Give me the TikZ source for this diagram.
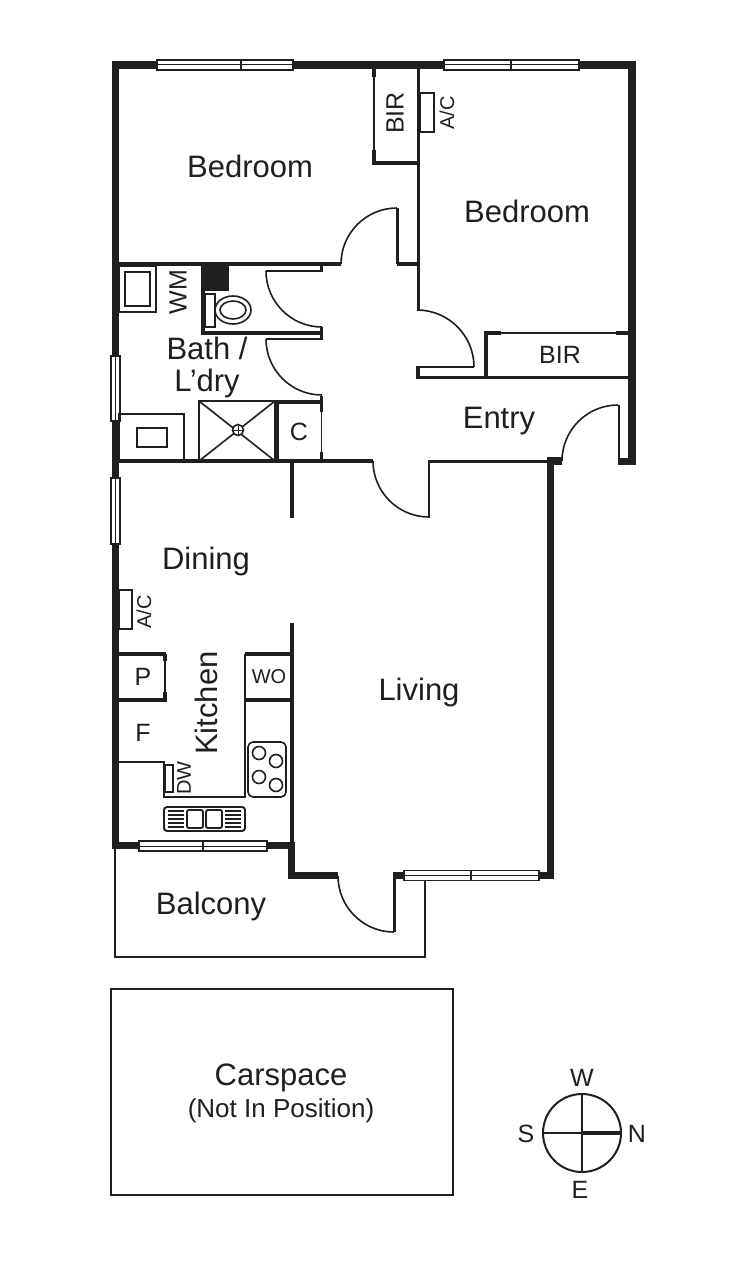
\documentclass[tikz,border=0pt]{standalone}
\usepackage{fontspec}
\setmainfont{Liberation Sans}

\begin{document}
\begin{tikzpicture}[x=1pt, y=-1pt,
        wallline/.style={line width=7.5pt, line cap=butt, color=black!88},
        partline/.style={line width=3.5pt, color=black!88},
        thinline/.style={line width=1.6pt, color=black!88},
        doorline/.style={line width=1.6pt, color=black!88},
        jambline/.style={line width=2.6pt, color=black!88},
        windowpane/.style={draw=black!88, fill=white, line width=1.3pt},
        roomlabel/.style={font=\fontsize{31}{32}\selectfont, text=black!88, inner sep=0pt, align=center},
        boxlabel/.style={font=\fontsize{25}{27}\selectfont, text=black!88, inner sep=0pt},
        smalllabel/.style={font=\fontsize{20}{22}\selectfont, text=black!88, inner sep=0pt}]

        \useasboundingbox (0, 0) rectangle (750, 1263);

        % outer walls
        \draw[wallline] (115.5, 61) -- (115.5, 849);
        \draw[wallline] (112, 65) -- (636, 65);
        \draw[wallline] (632, 61) -- (632, 465);
        \draw[wallline] (618, 461.5) -- (636, 461.5);
        \draw[wallline] (550.5, 458) -- (550.5, 879);
        \draw[wallline] (547, 461) -- (562, 461);
        \draw[wallline] (112, 845.5) -- (295, 845.5);
        \draw[wallline] (291.5, 842) -- (291.5, 879);
        \draw[wallline] (288, 875.5) -- (338, 875.5);
        \draw[wallline] (394, 875.5) -- (554, 875.5);

        % balcony and carspace
        \draw[line width=2.4pt, color=black!88] (115, 849) -- (115, 957) -- (425, 957) -- (425, 879);
        \draw[thinline] (111, 989) rectangle (453, 1195);

        % windows
        \foreach \xa/\xm/\xb/\yc in {157/241/293/65, 444/511/579/65, 139/203/267/846, 404/471/539/875.5}
        {
                \draw[windowpane] (\xa, \yc-5) rectangle (\xb, \yc+5);
                \draw[thinline, line width=1pt] (\xa, \yc) -- (\xb, \yc);
                \draw[thinline] (\xm, \yc-5) -- (\xm, \yc+5);
        }
        \foreach \ya/\yb in {356/421, 478/544}
        {
                \draw[windowpane] (111, \ya) rectangle (120, \yb);
                \draw[thinline, line width=1pt] (115.5, \ya) -- (115.5, \yb);
        }

        % inner walls
        \draw[partline] (418.5, 69) -- (418.5, 310);
        \draw[partline] (372, 163) -- (418.5, 163);
        \draw[partline] (119, 264) -- (341, 264);
        \draw[partline] (397, 264) -- (418.5, 264);
        \draw[partline] (416, 377.5) -- (628, 377.5);
        \draw[partline] (418, 366) -- (418, 379);
        \draw[partline] (486, 332) -- (486, 377);
        \draw[partline] (484, 333) -- (501, 333);
        \draw[partline] (616, 333) -- (628, 333);
        \draw[thinline] (501, 333) -- (616, 333);
        \draw[partline] (119, 461) -- (373, 461);
        \draw[partline] (428, 461.5) -- (547, 461.5);
        \draw[partline] (292, 461) -- (292, 518);
        \draw[partline] (292, 623) -- (292, 843);
        \draw[partline] (277, 401) -- (277, 461);
        \draw[partline] (275, 402) -- (322, 402);

        % upper robe door
        \draw[thinline] (374, 69) -- (374, 164);
        \draw[partline] (374, 69) -- (374, 77);
        \draw[partline] (374, 150) -- (374, 165);

        % pantry and oven
        \draw[partline] (119, 654) -- (166, 654);
        \draw[partline] (119, 700) -- (166, 700);
        \draw[thinline] (165, 654) -- (165, 700);
        \draw[partline] (165, 654) -- (165, 661);
        \draw[partline] (165, 692) -- (165, 702);
        \draw[partline] (245, 654) -- (292, 654);
        \draw[partline] (245, 700) -- (292, 700);

        % doors
        \foreach \xa/\ya/\angle in {341/264/270, 562/461/270, 338/876/90, 373/461/90}
        {
                \draw[doorline] (\xa, \ya) arc (180:\angle:56);
        }
        \draw[doorline] (417, 310) arc (-90:0:57);
        \draw[jambline] (418, 367) -- (474, 367);
        \draw[jambline] (397.5, 208) -- (397.5, 264);
        \draw[jambline] (619, 405) -- (619, 459);
        \draw[jambline] (429, 461) -- (429, 518);
        \draw[jambline] (394.5, 872) -- (394.5, 932);

        % bathroom doors
        \foreach \y in {271, 339}
        {
                \draw[jambline, line width=2.2pt] (266, \y) -- (322, \y);
                \draw[doorline] (266, \y) arc (180:90:56);
        }
        \draw[partline] (321.5, 265) -- (321.5, 272);
        \draw[partline] (321.5, 327) -- (321.5, 340);
        \draw[partline] (321.5, 396) -- (321.5, 412);
        \draw[thinline] (321.5, 412) -- (321.5, 452);
        \draw[partline] (321.5, 452) -- (321.5, 461);

        % toilet
        \fill[black!88] (201, 264) rectangle (229, 291);
        \draw[partline] (203, 291) -- (203, 333);
        \draw[partline] (201, 333) -- (322, 333);
        \draw[thinline] (205, 294) rectangle (215, 327);
        \draw[thinline, fill=white] (233, 310) ellipse (18 and 14);
        \draw[thinline] (233, 310) ellipse (13 and 9);

        % washing machine and basin
        \draw[thinline] (119, 266) rectangle (156, 312);
        \draw[thinline] (125, 272) rectangle (150, 306);
        \draw[thinline] (119, 414) rectangle (184, 461);
        \draw[thinline] (137, 428) rectangle (167, 447);

        % shower
        \draw[thinline] (199, 401) rectangle (275, 461);
        \draw[thinline] (199, 401) -- (275, 461);
        \draw[thinline] (199, 461) -- (275, 401);
        \draw[thinline, fill=white] (238, 430) circle (5.5);
        \draw[thinline, line width=1pt] (232.5, 430) -- (243.5, 430);
        \draw[thinline, line width=1pt] (238, 424.5) -- (238, 435.5);

        % air conditioners
        \draw[thinline] (420, 93) rectangle (434, 132);
        \draw[thinline] (119, 590) rectangle (132, 629);

        % kitchen benches
        \draw[thinline] (245, 654) -- (245, 797) -- (164, 797) -- (164, 762) -- (119, 762);
        \draw[thinline] (165, 765) rectangle (173, 792);
        \draw[thinline, rounded corners=5pt] (248, 742) rectangle (286, 797);
        \foreach \x/\y in {259/753, 276/761, 259/777, 276/785}
        {
                \draw[thinline] (\x, \y) circle (6.5);
        }
        \draw[thinline, line width=1.9pt, rounded corners=3pt] (164, 807) rectangle (245, 831);
        \draw[thinline, line width=1.9pt, rounded corners=2pt] (187, 810) rectangle (203, 828);
        \draw[thinline, line width=1.9pt, rounded corners=2pt] (206, 810) rectangle (222, 828);
        \foreach \y in {811, 815, 819, 823, 827}
        {
                \draw[thinline, line width=1.3pt] (168, \y) -- (184, \y);
                \draw[thinline, line width=1.3pt] (225, \y) -- (241, \y);
        }

        % compass
        \draw[thinline, line width=2pt] (582, 1133) circle (39);
        \draw[thinline] (582, 1094) -- (582, 1172);
        \draw[thinline] (543, 1133) -- (582, 1133);
        \draw[thinline, line width=4.5pt] (582, 1133) -- (621, 1133);

        % labels
        \node[roomlabel] (bedroomone) at (250, 166) {Bedroom};
        \node[roomlabel] (bedroomtwo) at (527, 211) {Bedroom};
        \node[boxlabel, rotate=90] (robeone) at (395, 113) {BIR};
        \node[boxlabel] (robetwo) at (560, 355) {BIR};
        \node[smalllabel, rotate=90] (acone) at (447, 113) {A/C};
        \node[smalllabel, rotate=90] (actwo) at (144, 612) {A/C};
        \node[boxlabel, rotate=90] (washer) at (178, 292) {WM};
        \node[roomlabel] (bath) at (207, 367) {Bath /\\L’dry};
        \node[boxlabel] (cupboard) at (299, 432) {C};
        \node[roomlabel] (entry) at (499, 421) {Entry};
        \node[roomlabel] (dining) at (206, 561) {Dining};
        \node[roomlabel] (living) at (419, 692) {Living};
        \node[roomlabel, rotate=90] (kitchen) at (206, 703) {Kitchen};
        \node[boxlabel] (pantry) at (143, 677) {P};
        \node[smalllabel] (oven) at (269, 677) {WO};
        \node[boxlabel] (fridge) at (143, 733) {F};
        \node[smalllabel, rotate=90] (dishes) at (184, 778) {DW};
        \node[roomlabel] (balcony) at (211, 906) {Balcony};
        \node[roomlabel] (carspace) at (281, 1078) {Carspace};
        \node[boxlabel, font=\fontsize{26}{28}\selectfont] (position) at (281, 1111) {(Not In Position)};
        \node[boxlabel] (west) at (582, 1078) {W};
        \node[boxlabel] (south) at (526, 1134) {S};
        \node[boxlabel] (north) at (637, 1134) {N};
        \node[boxlabel] (east) at (580, 1190) {E};

\end{tikzpicture}
\end{document}
